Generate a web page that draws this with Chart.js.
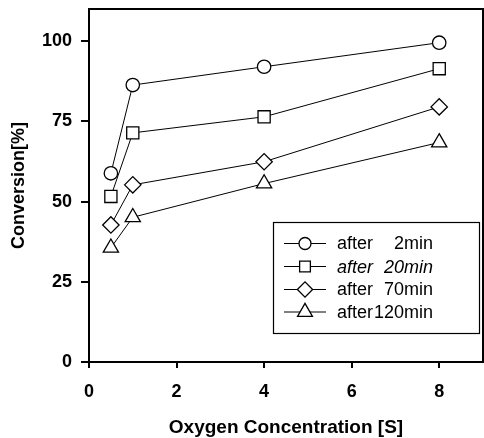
<!DOCTYPE html>
<html>
<head>
<meta charset="utf-8">
<script src="https://cdn.jsdelivr.net/npm/chart.js@4/dist/chart.umd.min.js"></script>
<style>
  body { margin: 0; background: #fff; }
  #wrap { width: 484px; height: 438px; }
</style>
</head>
<body>
<div id="wrap"><canvas id="convChart" width="484" height="438"></canvas></div>
<script>
// Oxygen concentration vs conversion, four reaction times
const oxygenConc = [0.5, 1, 4, 8];
const conv2min   = [58.8, 86.3, 92.0, 99.5];
const conv20min  = [51.6, 71.4, 76.4, 91.4];
const conv70min  = [42.7, 55.2, 62.4, 79.5];
const conv120min = [35.6, 45.1, 55.6, 68.4];

const xTicks = [0, 2, 4, 6, 8];
const yTicks = [0, 25, 50, 75, 100];

const seriesNames = ['2min', '20min', '70min', '120min'];
const seriesStyles = ['circle', 'rect', 'rectRot', 'triangle'];
const seriesRadius = [6.7, 8.6, 8.2, 8.8];

const toPoints = ys => oxygenConc.map((x, i) => ({ x: x, y: ys[i] }));

const datasets = [conv2min, conv20min, conv70min, conv120min].map((ys, i) => ({
  label: 'after ' + seriesNames[i],
  data: toPoints(ys),
  showLine: true,
  borderColor: '#000',
  borderWidth: 1,
  pointStyle: seriesStyles[i],
  pointRadius: seriesRadius[i],
  pointBackgroundColor: '#fff',
  pointBorderColor: '#000',
  pointBorderWidth: 1.3,
  tension: 0
}));

// frame on top / right of the plot area
const framePlugin = {
  id: 'frame',
  afterDraw(chart) {
    const { ctx, chartArea: a } = chart;
    ctx.save();
    ctx.strokeStyle = '#000';
    ctx.lineWidth = 2;
    ctx.beginPath();
    ctx.moveTo(a.left, a.top);
    ctx.lineTo(a.right, a.top);
    ctx.lineTo(a.right, a.bottom);
    ctx.stroke();
    ctx.restore();
  }
};

// legend box inside the plot, like the original figure
const legendPlugin = {
  id: 'boxLegend',
  afterDraw(chart) {
    const ctx = chart.ctx;
    const box = { x: 273, y: 222, w: 206, h: 111 };
    ctx.save();
    ctx.fillStyle = '#fff';
    ctx.fillRect(box.x, box.y, box.w, box.h);
    ctx.strokeStyle = '#000';
    ctx.lineWidth = 1.2;
    ctx.strokeRect(box.x + 0.5, box.y + 0.5, box.w, box.h);

    const rowY = [243.5, 266.5, 289.5, 312];
    const legRadius = [6, 7.6, 7.6, 8.6];
    chart.data.datasets.forEach((ds, i) => {
      const y = rowY[i];
      ctx.strokeStyle = '#000';
      ctx.lineWidth = 1;
      ctx.beginPath();
      ctx.moveTo(284, y);
      ctx.lineTo(326, y);
      ctx.stroke();

      ctx.fillStyle = '#fff';
      ctx.lineWidth = 1.3;
      const opts = { pointStyle: seriesStyles[i], radius: legRadius[i], rotation: 0, borderWidth: 1.3 };
      if (Chart.helpers && Chart.helpers.drawPoint) {
        Chart.helpers.drawPoint(ctx, opts, 305, y);
      }

      ctx.fillStyle = '#000';
      ctx.textBaseline = 'middle';
      ctx.font = (i === 1 ? 'italic ' : '') + '18px "Liberation Sans", Arial, sans-serif';
      ctx.textAlign = 'left';
      ctx.fillText('after', 337, y + 1);
      ctx.textAlign = 'right';
      ctx.fillText(seriesNames[i], 433, y + 1);
    });
    ctx.restore();
  }
};

const axisFont = { family: '"Liberation Sans", Arial, sans-serif', size: 18, weight: 'bold' };

// fixed box sizes, no extra padding for tick labels
function fixX(s) {
  s.height = 76;
  s.paddingLeft = 0; s.paddingRight = 0;
}
function fixY(s) {
  s.width = 89;
  s.paddingTop = 0; s.paddingBottom = 0;
}

new Chart(document.getElementById('convChart'), {
  type: 'scatter',
  data: { datasets: datasets },
  options: {
    responsive: false,
    animation: false,
    layout: { autoPadding: false, padding: { top: 9, right: 1, left: 0, bottom: 0 } },
    plugins: {
      legend: { display: false },
      tooltip: { enabled: false }
    },
    scales: {
      x: {
        type: 'linear',
        min: 0,
        max: 9,
        afterFit: fixX,
        afterBuildTicks: s => { s.ticks = xTicks.map(v => ({ value: v })); },
        border: { display: true, color: '#000', width: 2 },
        grid: { drawOnChartArea: false, drawTicks: true, tickLength: 6, color: '#000', lineWidth: 2 },
        ticks: { color: '#000', font: axisFont, padding: 13, maxRotation: 0 },
        title: {
          display: true,
          text: 'Oxygen Concentration [S]',
          color: '#000',
          font: { family: axisFont.family, size: 19, weight: 'bold', lineHeight: 1 },
          padding: { top: 0, bottom: 0.5 }
        }
      },
      y: {
        type: 'linear',
        min: 0,
        max: 110,
        afterFit: fixY,
        afterBuildTicks: s => { s.ticks = yTicks.map(v => ({ value: v })); },
        border: { display: true, color: '#000', width: 2 },
        grid: { drawOnChartArea: false, drawTicks: true, tickLength: 8, color: '#000', lineWidth: 2 },
        ticks: { color: '#000', font: axisFont, padding: 9 },
        title: {
          display: true,
          text: 'Conversion[%]',
          color: '#000',
          font: { family: axisFont.family, size: 18, weight: 'bold', lineHeight: 1 },
          padding: { top: 10, bottom: 0 }
        }
      }
    }
  },
  plugins: [framePlugin, legendPlugin]
});
</script>
</body>
</html>
